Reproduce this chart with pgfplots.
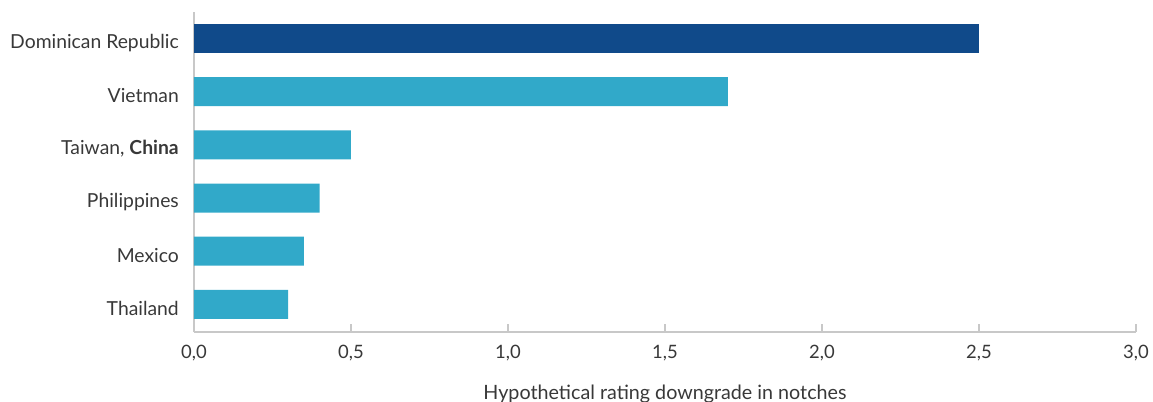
\documentclass[border=0pt]{standalone}
\usepackage{pgfplots}
\pgfplotsset{compat=1.18}
\usepackage{fontspec}
\setmainfont{Lato}
\definecolor{darkbar}{HTML}{104A8A}
\definecolor{lightbar}{HTML}{31A9C9}
\definecolor{axgray}{HTML}{C8C8C8}
\definecolor{txt}{HTML}{383838}
\begin{document}
\begin{tikzpicture}
\path[use as bounding box] (-194bp,-70bp) rectangle (959bp,332bp);
\begin{axis}[
  at={(0,0)}, anchor=south west,
  scale only axis, width=942bp, height=320bp,
  xmin=0, xmax=3, ymin=-0.52, ymax=5.5,
  axis lines=left,
  axis line style={axgray, line width=1.6bp, -},
  every tick/.style={axgray, line width=1.6bp},
  xtick={0,0.5,1,1.5,2,2.5,3},
  major tick length=8bp, tick align=inside,
  ytick style={draw=none},
  ytick={0,1,2,3,4,5},
  yticklabels={Thailand,Mexico,Philippines,{Taiwan, \textbf{China}},Vietman,Dominican Republic},
  /pgf/number format/assume math mode=true,
  /pgf/number format/fixed,
  /pgf/number format/fixed zerofill,
  /pgf/number format/precision=1,
  /pgf/number format/use comma,
  xticklabel style={font=\fontsize{18.5}{22}\selectfont, text=txt, anchor=center, yshift=-21bp},
  yticklabel style={font=\fontsize{19.4}{23}\selectfont, text=txt, anchor=east, inner sep=0pt, xshift=-15bp, yshift=-4bp},
  xlabel={Hypothetical rating downgrade in notches},
  xlabel style={font=\fontsize{19.8}{23}\selectfont, text=txt, at={(axis description cs:0.5,0)}, anchor=center, yshift=-62bp},
]
\addplot[xbar, bar width=29bp, bar shift=0pt, fill=lightbar, draw=none]
  coordinates {(0.30,0) (0.35,1) (0.40,2) (0.50,3) (1.70,4)};
\addplot[xbar, bar width=29bp, bar shift=0pt, fill=darkbar, draw=none]
  coordinates {(2.50,5)};
\end{axis}
\end{tikzpicture}
\end{document}
